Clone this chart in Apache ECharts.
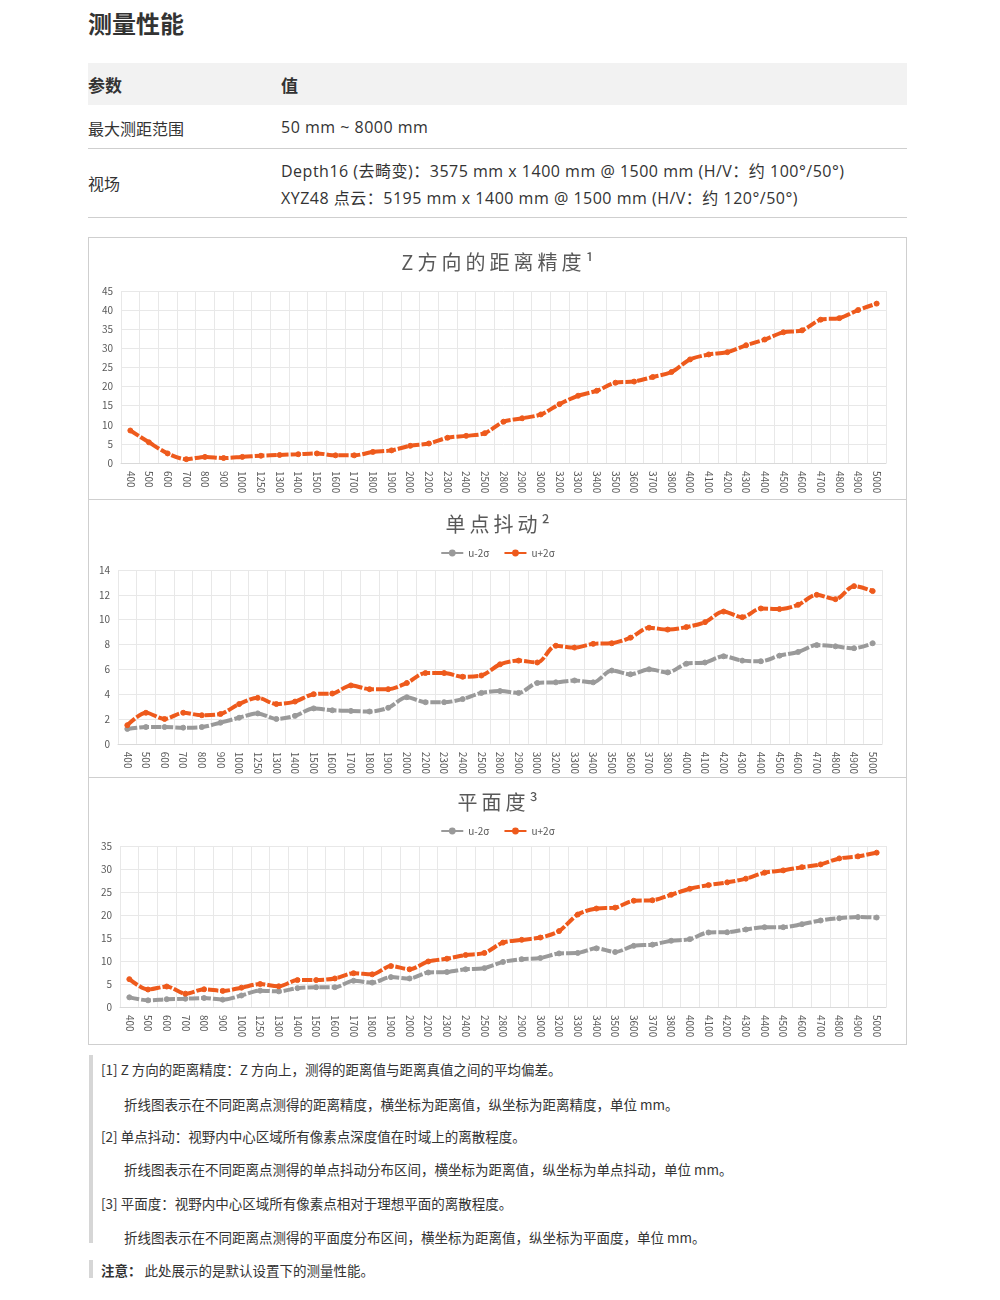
<!DOCTYPE html>
<html>
<head>
<meta charset="utf-8">
<script src="https://cdn.jsdelivr.net/npm/echarts@6/dist/echarts.min.js"></script>
<style>
  body { margin: 0; background: #fff; font-family: "Noto Sans CJK SC", "Noto Sans", sans-serif; color: #333; }
  .abs { position: absolute; white-space: nowrap; }
  .h1 { left: 88px; top: 5px; font-size: 24px; font-weight: bold; color: #333; }
  .thead { left: 88px; top: 63px; width: 819px; height: 42px; background: #f2f2f2; }
  .th { font-size: 17px; font-weight: bold; top: 72px; }
  .td { font-size: 16px; color: #333; font-family: "Open Sans", "Noto Sans CJK SC", sans-serif; }
  .val { letter-spacing: 0.5px; }
  .rule { left: 88px; width: 819px; height: 1px; background: #cfcfcf; }
  .panel { position: absolute; left: 88px; width: 817px; border: 1px solid #cfcfcf; }
  .note { font-size: 13.5px; color: #333; }
  .bar { position: absolute; left: 89px; width: 4px; background: #d6d6d6; }
</style>
</head>
<body>
<div class="abs h1">测量性能</div>
<div class="abs thead"></div>
<div class="abs th" style="left:88px">参数</div>
<div class="abs th" style="left:281px">值</div>
<div class="abs td" style="left:88px;top:116px">最大测距范围</div>
<div class="abs td val" style="left:281px;top:116px">50 mm ~ 8000 mm</div>
<div class="abs rule" style="top:148px"></div>
<div class="abs td" style="left:88px;top:171px">视场</div>
<div class="abs td val" style="left:281px;top:158px">Depth16 (去畸变)：3575 mm x 1400 mm @ 1500 mm (H/V：约 100°/50°)</div>
<div class="abs td val" style="left:281px;top:185px">XYZ48 点云：5195 mm x 1400 mm @ 1500 mm (H/V：约 120°/50°)</div>
<div class="abs rule" style="top:217px"></div>

<div id="c1" class="panel" style="top:237px;height:261px"></div>
<div id="c2" class="panel" style="top:499px;height:277px"></div>
<div id="c3" class="panel" style="top:777px;height:266px"></div>

<div class="bar" style="top:1055px;height:188px"></div>
<div class="abs note" style="left:101px;top:1059px">[1] Z 方向的距离精度：Z 方向上，测得的距离值与距离真值之间的平均偏差。</div>
<div class="abs note" style="left:124px;top:1094px">折线图表示在不同距离点测得的距离精度，横坐标为距离值，纵坐标为距离精度，单位 mm。</div>
<div class="abs note" style="left:101px;top:1126px">[2] 单点抖动：视野内中心区域所有像素点深度值在时域上的离散程度。</div>
<div class="abs note" style="left:124px;top:1159px">折线图表示在不同距离点测得的单点抖动分布区间，横坐标为距离值，纵坐标为单点抖动，单位 mm。</div>
<div class="abs note" style="left:101px;top:1193px">[3] 平面度：视野内中心区域所有像素点相对于理想平面的离散程度。</div>
<div class="abs note" style="left:124px;top:1227px">折线图表示在不同距离点测得的平面度分布区间，横坐标为距离值，纵坐标为平面度，单位 mm。</div>
<div class="bar" style="top:1260px;height:18px"></div>
<div class="abs note" style="left:101px;top:1260px"><b>注意：</b> 此处展示的是默认设置下的测量性能。</div>

<script>
// distance points (mm)
var distances = ['400','500','600','700','800','900','1000','1250','1300','1400','1500','1600','1700','1800','1900','2000',
  '2200','2300','2400','2500','2800','2900','3000','3200','3300','3400','3500','3600','3700','3800','4000','4100','4200',
  '4300','4400','4500','4600','4700','4800','4900','5000'];

// Z accuracy
var zAccuracy = [8.5,5.4,2.5,1.0,1.6,1.3,1.6,1.9,2.1,2.3,2.5,2.0,2.0,2.9,3.3,4.5,5.1,6.6,7.1,7.8,10.8,11.7,12.7,15.4,17.6,18.9,
  21.0,21.3,22.5,23.8,27.1,28.4,29.0,30.8,32.3,34.2,34.7,37.5,37.9,40.0,41.7];

// single point jitter
var jitterLow = [1.2,1.35,1.35,1.3,1.35,1.7,2.1,2.45,2.0,2.25,2.85,2.7,2.65,2.6,2.9,3.75,3.35,3.35,3.6,4.1,4.25,4.1,4.9,4.95,
  5.1,4.95,5.9,5.6,6.0,5.75,6.45,6.55,7.05,6.7,6.65,7.1,7.4,7.95,7.85,7.7,8.1];
var jitterHigh = [1.5,2.5,2.0,2.5,2.3,2.4,3.2,3.7,3.2,3.4,4.0,4.05,4.7,4.4,4.4,4.9,5.7,5.7,5.4,5.5,6.4,6.7,6.55,7.9,7.75,8.05,
  8.1,8.55,9.35,9.2,9.4,9.8,10.65,10.2,10.9,10.85,11.2,12.0,11.65,12.7,12.3];

// flatness
var flatLow = [2.1,1.45,1.7,1.8,1.95,1.6,2.5,3.55,3.4,4.1,4.3,4.3,5.7,5.3,6.5,6.2,7.5,7.6,8.2,8.45,9.8,10.4,10.65,11.65,11.75,
  12.75,11.95,13.3,13.55,14.4,14.75,16.2,16.25,16.85,17.35,17.35,18.0,18.8,19.3,19.55,19.45];
var flatHigh = [6.05,3.8,4.45,2.9,3.85,3.5,4.2,5.0,4.5,5.85,5.85,6.2,7.35,7.1,8.9,8.2,9.9,10.5,11.3,11.75,14.0,14.6,15.1,16.5,
  20.1,21.4,21.6,23.1,23.2,24.4,25.7,26.5,27.1,27.9,29.2,29.7,30.4,31.0,32.3,32.75,33.55];

var ORANGE = '#ee5a1c';
var GREY = '#9a9a9a';
var FONT = '"Noto Sans CJK SC", "Noto Sans", sans-serif';
var GAP = '\u2009';

function seriesOf(name, data, color) {
  return {
    name: name,
    type: 'line',
    data: data,
    smooth: 0.3,
    symbol: 'circle',
    symbolSize: 5,
    itemStyle: { color: color, borderColor: color, borderWidth: 1 },
    lineStyle: { color: color, width: 4, type: [10, 2] },
    emphasis: { disabled: true }
  };
}

// spread the title a little, like the original chart titles
function spaced(text, sup) {
  return Array.from(text).join(GAP) + GAP + sup;
}

function makeChart(id, title, grid, yMax, yInterval, series, withLegend) {
  var chart = echarts.init(document.getElementById(id));
  chart.setOption({
    animation: false,
    title: {
      text: title,
      left: 'center',
      top: 9,
      textStyle: { fontFamily: FONT, fontSize: 20, fontWeight: 'normal', color: '#595959' }
    },
    legend: {
      show: withLegend,
      top: 43,
      left: 'center',
      itemWidth: 22,
      itemHeight: 6,
      itemGap: 14,
      textStyle: { fontFamily: FONT, fontSize: 10, color: '#595959' }
    },
    grid: grid,
    xAxis: {
      type: 'category',
      data: distances,
      boundaryGap: true,
      axisLine: { lineStyle: { color: '#d9d9d9' } },
      axisTick: { show: false },
      splitLine: { show: true, lineStyle: { color: '#e8e8e8' } },
      axisLabel: { interval: 0, rotate: -90, fontFamily: FONT, fontSize: 10, color: '#595959', margin: 8 }
    },
    yAxis: {
      type: 'value',
      min: 0,
      max: yMax,
      interval: yInterval,
      axisLine: { show: false },
      axisTick: { show: false },
      splitLine: { lineStyle: { color: '#e8e8e8' } },
      axisLabel: { fontFamily: FONT, fontSize: 10, color: '#595959', margin: 8 }
    },
    series: series
  });
}

makeChart('c1', spaced('Z方向的距离精度', '¹'), { left: 32, right: 20, top: 53, bottom: 36 }, 45, 5,
  [seriesOf('Z', zAccuracy, ORANGE)], false);

makeChart('c2', spaced('单点抖动', '²'), { left: 29, right: 24, top: 70, bottom: 32 }, 14, 2,
  [seriesOf('u-2σ', jitterLow, GREY), seriesOf('u+2σ', jitterHigh, ORANGE)], true);

makeChart('c3', spaced('平面度', '³'), { left: 31, right: 20, top: 68, bottom: 37 }, 35, 5,
  [seriesOf('u-2σ', flatLow, GREY), seriesOf('u+2σ', flatHigh, ORANGE)], true);
</script>
</body>
</html>
